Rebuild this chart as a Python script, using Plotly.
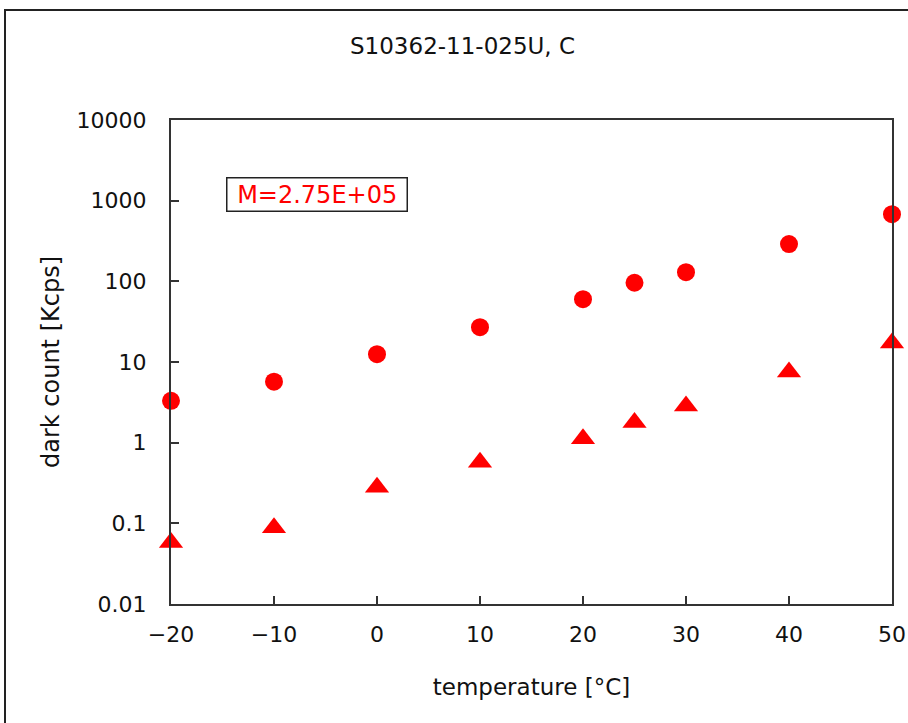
import plotly.graph_objects as go

temps = [-20, -10, 0, 10, 20, 25, 30, 40, 50]
dark_circle = [3.3, 5.7, 12.5, 27, 60, 96, 130, 290, 680]
dark_triangle = [0.058, 0.088, 0.28, 0.57, 1.12, 1.78, 2.85, 7.5, 17.2]
y_tickvals = [0.01, 0.1, 1, 10, 100, 1000, 10000]
y_ticktext = ["0.01", "0.1", "1", "10", "100", "1000", "10000"]
x_tickvals = [-20, -10, 0, 10, 20, 30, 40, 50]

FONT = "DejaVu Sans, Liberation Sans, Arial, sans-serif"
W, H = 908, 723
L, R, T, B = 171, 16, 120, 119
pw, ph = W - L - R, H - T - B

def px(x):
    return (x - L) / pw

def py(y):
    return (H - B - y) / ph

fig = go.Figure()
fig.add_trace(go.Scatter(x=temps, y=dark_circle, mode="markers",
                         marker=dict(symbol="circle", size=18, color="#ff0000"),
                         cliponaxis=False, showlegend=False))
fig.add_trace(go.Scatter(x=temps, y=dark_triangle, mode="markers",
                         marker=dict(symbol="triangle-up", size=21, color="#ff0000"),
                         cliponaxis=False, showlegend=False))

fig.update_layout(
    width=W, height=H,
    margin=dict(l=L, r=R, t=T, b=B),
    paper_bgcolor="white", plot_bgcolor="white",
    font=dict(family=FONT, color="#111"),
    xaxis=dict(range=[-20, 50], tickvals=x_tickvals, showgrid=False, zeroline=False,
               automargin=False,
               showline=True, linecolor="#333", linewidth=2, mirror=True,
               ticks="inside", ticklen=8, tickwidth=1.5, tickcolor="#333",
               tickfont=dict(size=22, family=FONT, color="#111"),
               ticklabelstandoff=10,
               title=dict(text="temperature [°C]", font=dict(size=23, family=FONT, color="#111"),
                          standoff=32)),
    yaxis=dict(type="log", range=[-2, 4], tickvals=y_tickvals, ticktext=y_ticktext,
               showgrid=False, zeroline=False, automargin=False,
               showline=True, linecolor="#333", linewidth=2, mirror=True,
               ticks="inside", ticklen=8, tickwidth=1.5, tickcolor="#333",
               tickfont=dict(size=22, family=FONT, color="#111"),
               ticklabelstandoff=18,
               title=dict(text="dark count [Kcps]", font=dict(size=24, family=FONT, color="#111"),
                          standoff=10)),
)

fig.add_annotation(x=px(462), y=py(46), xref="paper", yref="paper",
                   xanchor="center", yanchor="middle",
                   text="S10362-11-025U, C", showarrow=False,
                   font=dict(size=23, family=FONT, color="#111"))

fig.add_annotation(x=px(317), y=py(194), xref="paper", yref="paper",
                   xanchor="center", yanchor="middle",
                   text=" M=2.75E+05 ", showarrow=False,
                   font=dict(size=24, family=FONT, color="#ff0000"),
                   bgcolor="white", bordercolor="#222", borderwidth=1.5, borderpad=2)

fig.add_shape(type="rect", xref="paper", yref="paper",
              x0=px(5), x1=px(915), y0=py(735), y1=py(10),
              line=dict(color="#222", width=2), fillcolor="rgba(0,0,0,0)", layer="below")

fig.write_html("out.html")
